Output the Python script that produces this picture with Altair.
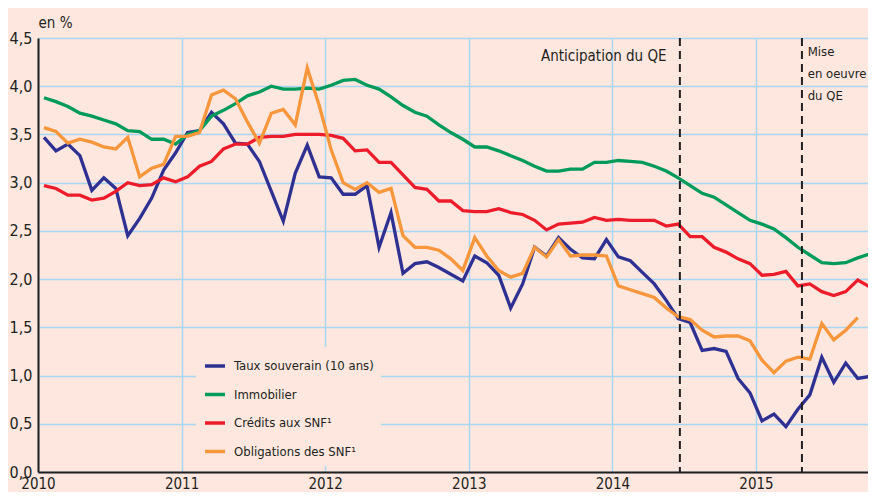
import altair as alt
import pandas as pd

# Monthly series, Jan 2010 onwards (values in %)
taux_souverain = [3.47, 3.33, 3.40, 3.28, 2.92, 3.05, 2.94, 2.45, 2.63, 2.84, 3.13, 3.31,
                  3.52, 3.54, 3.73, 3.61, 3.41, 3.40, 3.22, 2.91, 2.60, 3.10, 3.39, 3.06,
                  3.05, 2.88, 2.88, 2.97, 2.33, 2.69, 2.06, 2.16, 2.18, 2.12, 2.05, 1.98,
                  2.24, 2.17, 2.04, 1.70, 1.95, 2.33, 2.24, 2.43, 2.31, 2.22, 2.21, 2.41,
                  2.23, 2.19, 2.07, 1.95, 1.78, 1.59, 1.55, 1.26, 1.28, 1.25, 0.97, 0.82,
                  0.53, 0.60, 0.47, 0.65, 0.80, 1.19, 0.93, 1.13, 0.97, 0.99]
immobilier = [3.88, 3.84, 3.79, 3.72, 3.69, 3.65, 3.61, 3.54, 3.53, 3.45, 3.45, 3.40,
              3.50, 3.54, 3.69, 3.75, 3.82, 3.90, 3.94, 4.00, 3.97, 3.97, 3.98, 3.97,
              4.01, 4.06, 4.07, 4.01, 3.97, 3.89, 3.80, 3.73, 3.69, 3.60, 3.52, 3.45,
              3.37, 3.37, 3.33, 3.28, 3.23, 3.17, 3.12, 3.12, 3.14, 3.14, 3.21, 3.21,
              3.23, 3.22, 3.21, 3.17, 3.12, 3.05, 2.97, 2.89, 2.85, 2.77, 2.69, 2.61,
              2.57, 2.52, 2.43, 2.33, 2.25, 2.17, 2.16, 2.17, 2.22, 2.26]
credits_snf = [2.97, 2.94, 2.87, 2.87, 2.82, 2.84, 2.91, 3.00, 2.97, 2.98, 3.05, 3.01,
               3.06, 3.17, 3.22, 3.35, 3.40, 3.40, 3.47, 3.48, 3.48, 3.50, 3.50, 3.50,
               3.49, 3.46, 3.33, 3.34, 3.21, 3.21, 3.08, 2.95, 2.93, 2.81, 2.81, 2.71,
               2.70, 2.70, 2.73, 2.69, 2.67, 2.61, 2.51, 2.57, 2.58, 2.59, 2.64, 2.61,
               2.62, 2.61, 2.61, 2.61, 2.55, 2.57, 2.44, 2.44, 2.33, 2.28, 2.21, 2.16,
               2.04, 2.05, 2.08, 1.93, 1.95, 1.87, 1.83, 1.87, 1.99, 1.92]
obligations_snf = [3.57, 3.53, 3.41, 3.45, 3.42, 3.37, 3.35, 3.47, 3.06, 3.15, 3.19, 3.48,
                   3.48, 3.52, 3.91, 3.96, 3.87, 3.63, 3.41, 3.72, 3.76, 3.60, 4.19, 3.80,
                   3.34, 3.00, 2.93, 3.00, 2.90, 2.94, 2.45, 2.33, 2.33, 2.30, 2.21, 2.09,
                   2.43, 2.24, 2.09, 2.02, 2.06, 2.33, 2.23, 2.41, 2.24, 2.25, 2.25, 2.24,
                   1.93, 1.89, 1.85, 1.81, 1.70, 1.61, 1.58, 1.47, 1.40, 1.41, 1.41, 1.36,
                   1.16, 1.03, 1.15, 1.19, 1.17, 1.54, 1.37, 1.47, 1.60]

series_names = ["Taux souverain (10 ans)", "Immobilier", "Crédits aux SNF¹", "Obligations des SNF¹"]
series_colors = ["#2E3192", "#009B5B", "#ED1C2A", "#F7963A"]
year_ticks = [2010, 2011, 2012, 2013, 2014, 2015]
y_ticks = [0.0, 0.5, 1.0, 1.5, 2.0, 2.5, 3.0, 3.5, 4.0, 4.5]
qe_dates = [2014.47, 2015.32]
ann_anticip = ["Anticipation du QE"]
ann_mise = ["Mise", "en oeuvre", "du QE"]

BG = "#FDE7DF"
INK = "#231F20"
FONT = "Liberation Sans Narrow, DejaVu Sans Condensed, Roboto, sans-serif"

rows = []
for k, (name, vals) in enumerate(zip(series_names, [taux_souverain, immobilier, credits_snf, obligations_snf])):
    for i, v in enumerate(vals):
        rows.append({"t": 2010 + (i + 0.5) / 12, "v": v, "serie": name, "k": k})
df = pd.DataFrame(rows)

xscale = alt.Scale(domain=[2010, 2015.78], nice=False, zero=False)
yscale = alt.Scale(domain=[0, 4.5], nice=False, zero=True)

lines = alt.Chart(df).mark_line(strokeWidth=3.3, strokeJoin="miter", clip=True).encode(
    x=alt.X("t:Q", scale=xscale,
            axis=alt.Axis(values=year_ticks, format="d", title=None, grid=True,
                          labelFlush=False, labelPadding=4, labelFontSize=15)),
    y=alt.Y("v:Q", scale=yscale,
            axis=alt.Axis(values=y_ticks, title="en %", titleAngle=0, titleAlign="left",
                          titleX=0, titleY=-11, titleBaseline="alphabetic",
                          titleFontWeight="normal", titleFontSize=15, titleFont=FONT,
                          titleColor=INK,
                          labelExpr="replace(format(datum.value, '.1f'), '.', ',')",
                          labelPadding=6, labelFontSize=16)),
    color=alt.Color("serie:N",
                    scale=alt.Scale(domain=series_names, range=series_colors),
                    legend=alt.Legend(orient="none", legendX=158, legendY=309, title=None,
                                      fillColor=BG, padding=7, labelFont=FONT,
                                      labelFontSize=13, labelColor=INK, labelLimit=300,
                                      symbolType="stroke", symbolSize=400,
                                      symbolStrokeWidth=3.5, rowPadding=9.5,
                                      labelOffset=7)),
    detail="k:N",
    order="t:Q",
)

qe_df = pd.DataFrame({"q": qe_dates})
rules = alt.Chart(qe_df).mark_rule(strokeDash=[8, 5], strokeWidth=2, color=INK).encode(
    x=alt.X("q:Q", scale=xscale)
)

anticip_df = pd.DataFrame({"x": [2014.377], "y": [4.31], "txt": ann_anticip})
anticip = alt.Chart(anticip_df).mark_text(align="right", baseline="middle", font=FONT,
                                          fontSize=15, color=INK).encode(
    x=alt.X("x:Q", scale=xscale), y=alt.Y("y:Q", scale=yscale), text="txt:N")

mise_df = pd.DataFrame({"x": [2015.36] * 3, "y": [4.35, 4.125, 3.90], "txt": ann_mise})
mise = alt.Chart(mise_df).mark_text(align="left", baseline="middle", font=FONT,
                                    fontSize=13, color=INK).encode(
    x=alt.X("x:Q", scale=xscale), y=alt.Y("y:Q", scale=yscale), text="txt:N")

chart = alt.layer(lines, rules, anticip, mise).properties(
    width=830, height=434, background=BG,
    autosize=alt.AutoSizeParams(type="none"),
    padding={"left": 30, "top": 30, "right": 0, "bottom": 20},
).configure_view(stroke=None, fill=BG).configure_axis(
    domainColor=INK, domainWidth=2, gridColor="#A9D7F1", gridWidth=1.5,
    ticks=False, tickSize=0, labelFont=FONT, labelColor=INK,
)

chart.save("out.html", embed_options={"renderer": "svg", "actions": False})
